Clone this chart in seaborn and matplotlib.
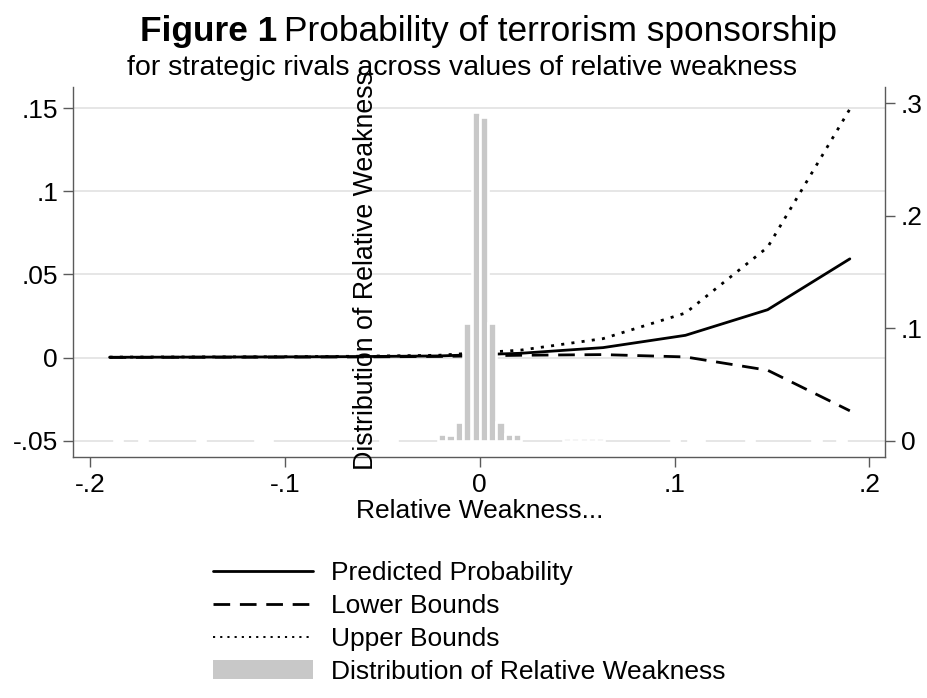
import matplotlib
matplotlib.use("Agg")
import matplotlib.pyplot as plt
from matplotlib.lines import Line2D
from matplotlib.patches import Patch
import seaborn as sns
import pandas as pd

# Predicted probability with confidence bounds over relative weakness
weakness = [-0.19, -0.1478, -0.1056, -0.0633, -0.0211, 0.0211, 0.0633, 0.1056, 0.1478, 0.19]
predicted = [0.0002, 0.0003, 0.0004, 0.0006, 0.0010, 0.0026, 0.0060, 0.0134, 0.0288, 0.0594]
lower = [0.0001, 0.0002, 0.0003, 0.0004, 0.0007, 0.0014, 0.0018, 0.0004, -0.0076, -0.0320]
upper = [0.0003, 0.0004, 0.0005, 0.0008, 0.0014, 0.0045, 0.0114, 0.0268, 0.0664, 0.1495]

# Histogram of relative weakness (bin centres and fractions)
hist_centers = [-0.1857, -0.1729, -0.1430, -0.1132, -0.1089, -0.0491, -0.0448,
                -0.0192, -0.0150, -0.0107, -0.0064, -0.0021, 0.0021, 0.0064,
                0.0107, 0.0150, 0.0192, 0.0448, 0.0491, 0.0534, 0.0576, 0.0619,
                0.1004, 0.1089, 0.1132, 0.1388, 0.1729, 0.1857]
hist_fraction = [0.0015, 0.0015, 0.0018, 0.0015, 0.0015, 0.0015, 0.0018,
                 0.0060, 0.0050, 0.0166, 0.1050, 0.2924, 0.2875, 0.1050,
                 0.0166, 0.0055, 0.0060, 0.0022, 0.0024, 0.0024, 0.0024, 0.0022,
                 0.0012, 0.0015, 0.0015, 0.0012, 0.0012, 0.0012]

x_ticks = [-0.2, -0.1, 0.0, 0.1, 0.2]
x_ticklabels = ["-.2", "-.1", "0", ".1", ".2"]
y_ticks = [-0.05, 0.0, 0.05, 0.1, 0.15]
y_ticklabels = ["-.05", "0", ".05", ".1", ".15"]
y2_ticks = [0.0, 0.1, 0.2, 0.3]
y2_ticklabels = ["0", ".1", ".2", ".3"]

sns.set_theme(style="white")
plt.rcParams["font.family"] = ["Liberation Sans", "DejaVu Sans"]
plt.rcParams["text.color"] = "black"
plt.rcParams["axes.labelcolor"] = "black"
plt.rcParams["xtick.color"] = "black"
plt.rcParams["ytick.color"] = "black"

FS = 19
fig = plt.figure(figsize=(9.27, 6.98), dpi=100)
ax = fig.add_axes([0.0791, 0.3448, 0.8759, 0.5301])

lines_df = pd.DataFrame({"x": weakness, "pred": predicted, "lo": lower, "hi": upper})

ax.grid(False)
for yv in y_ticks:
    ax.axhline(yv, color="#e6e6e6", lw=1.4, zorder=0)

sns.lineplot(data=lines_df, x="x", y="pred", ax=ax, color="black", lw=2.0,
             linestyle="-")
sns.lineplot(data=lines_df, x="x", y="lo", ax=ax, color="black", lw=2.0,
             linestyle=(0, (6, 3.5)))
sns.lineplot(data=lines_df, x="x", y="hi", ax=ax, color="black", lw=2.0,
             linestyle=(0, (1.1, 2.6)))

ax.set_xlim(-0.2086, 0.2082)
ax.set_ylim(-0.06, 0.1626)
ax.set_xticks(x_ticks)
ax.set_xticklabels(x_ticklabels)
ax.set_yticks(y_ticks)
ax.set_yticklabels(y_ticklabels)
ax.set_xlabel("Relative Weakness...", fontsize=FS, labelpad=2)
ax.set_ylabel("")

# Histogram on a second scale
ax2 = ax.twinx()
hist_df = pd.DataFrame({"c": hist_centers, "f": hist_fraction})
sns.barplot(data=hist_df, x="c", y="f", ax=ax2, native_scale=True, width=1.0,
            color="#c8c8c8", saturation=1, errorbar=None,
            edgecolor="white", linewidth=1.9)
ax2.set_xlim(-0.2086, 0.2082)
ax2.set_ylim(-0.0148, 0.3141)
ax2.set_yticks(y2_ticks)
ax2.set_yticklabels(y2_ticklabels)
ax2.set_ylabel("")
ax2.set_xlabel("")
ax2.grid(False)

spine_col = "#5a5a5a"
for a in (ax, ax2):
    a.spines["top"].set_visible(False)
    for s in ("left", "right", "bottom"):
        a.spines[s].set_color(spine_col)
        a.spines[s].set_linewidth(1.0)
ax.spines["right"].set_visible(False)
ax2.spines["left"].set_visible(False)
ax2.spines["bottom"].set_visible(False)

ax.tick_params(axis="x", direction="out", length=7, width=1, color=spine_col,
               labelcolor="black", labelsize=FS, pad=4, bottom=True)
ax.tick_params(axis="y", direction="out", length=7, width=1, color=spine_col,
               labelcolor="black", labelsize=FS, pad=4, left=True)
ax2.tick_params(axis="y", direction="out", length=7, width=1, color=spine_col,
                labelcolor="black", labelsize=FS, pad=4, right=True)

fig.text(366 / 927, 1 - 270 / 698, "Distribution of Relative Weakness",
         rotation=90, fontsize=19.3, ha="center", va="center", color="black")

# Title: bold figure number followed by plain text
t1 = fig.text(140 / 927, 1 - 32 / 698, "Figure 1", fontsize=25.4,
              fontweight="bold", ha="left", va="center", color="black")
fig.canvas.draw()
bb = t1.get_window_extent()
fig.text((bb.x1 + 7) / 927, 1 - 32 / 698, "Probability of terrorism sponsorship",
         fontsize=25.4, ha="left", va="center", color="black")
fig.text(462 / 927, 1 - 68 / 698,
         "for strategic rivals across values of relative weakness",
         fontsize=20.5, ha="center", va="center", color="black")

handles = [
    Line2D([], [], color="black", lw=2.0, linestyle="-"),
    Line2D([], [], color="black", lw=2.0, linestyle=(0, (6, 3.5))),
    Line2D([], [], color="black", lw=1.4, linestyle=(0, (1.1, 2.6))),
    Patch(facecolor="#c8c8c8", edgecolor="none"),
]
labels = ["Predicted Probability", "Lower Bounds", "Upper Bounds",
          "Distribution of Relative Weakness"]
fig.legend(handles, labels, loc="upper left",
           bbox_to_anchor=(213 / 927, 1 - 561 / 698), frameon=False,
           fontsize=FS, handlelength=3.79, handletextpad=0.68,
           labelspacing=0.34, borderpad=0, borderaxespad=0)

fig.savefig("out.png", dpi=100)
